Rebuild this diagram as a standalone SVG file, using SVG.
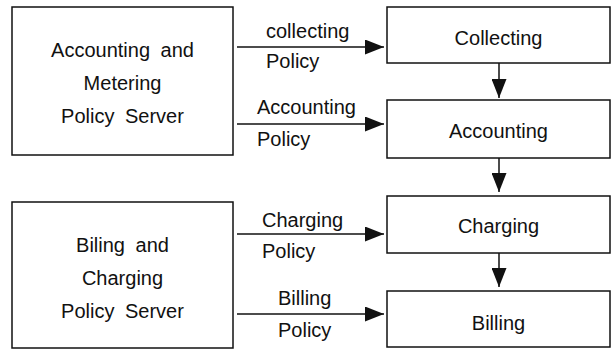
<svg xmlns="http://www.w3.org/2000/svg" width="614" height="350" viewBox="0 0 614 350">
<defs>
<style>
.box{fill:#fff;stroke:#111;stroke-width:1.5}
.t{font-family:"Liberation Sans",Arial,Helvetica,sans-serif;font-size:20px;fill:#111}
.c{text-anchor:middle;word-spacing:5px}
.ln{stroke:#111;stroke-width:1.5;fill:none}
</style>
<marker id="ah" markerUnits="userSpaceOnUse" markerWidth="19" markerHeight="15" refX="19" refY="7.5" orient="auto">
<path d="M0,0 L19,7.5 L0,15 Z" fill="#111"/>
</marker>
</defs>
<rect width="614" height="350" fill="#fff"/>
<g id="am-server">
<rect class="box" x="12" y="7" width="221" height="148"/>
<text class="t c" x="122.5" y="57">Accounting and</text>
<text class="t c" x="122.5" y="90">Metering</text>
<text class="t c" x="122.5" y="123">Policy Server</text>
</g>
<g id="bc-server">
<rect class="box" x="12" y="202" width="221" height="146"/>
<text class="t c" x="122.5" y="252">Biling and</text>
<text class="t c" x="122.5" y="285">Charging</text>
<text class="t c" x="122.5" y="318">Policy Server</text>
</g>
<g id="collecting">
<rect class="box" x="387" y="7" width="223" height="56"/>
<text class="t c" x="498.5" y="45">Collecting</text>
</g>
<g id="accounting">
<rect class="box" x="387" y="100" width="223" height="58"/>
<text class="t c" x="498.5" y="138">Accounting</text>
</g>
<g id="charging">
<rect class="box" x="387" y="196" width="223" height="57"/>
<text class="t c" x="498.5" y="233">Charging</text>
</g>
<g id="billing">
<rect class="box" x="387" y="291" width="223" height="56"/>
<text class="t c" x="498.5" y="330">Billing</text>
</g>
<g id="connectors">
<line class="ln" x1="237" y1="47" x2="384" y2="47" marker-end="url(#ah)"/>
<line class="ln" x1="237" y1="124" x2="384" y2="124" marker-end="url(#ah)"/>
<line class="ln" x1="237" y1="234" x2="384" y2="234" marker-end="url(#ah)"/>
<line class="ln" x1="237" y1="314" x2="384" y2="314" marker-end="url(#ah)"/>
<line class="ln" x1="499" y1="63" x2="499" y2="98" marker-end="url(#ah)"/>
<line class="ln" x1="499" y1="158" x2="499" y2="192" marker-end="url(#ah)"/>
<line class="ln" x1="499" y1="253" x2="499" y2="287" marker-end="url(#ah)"/>
<text class="t" x="266" y="38">collecting</text>
<text class="t" x="266" y="68">Policy</text>
<text class="t" x="257" y="114">Accounting</text>
<text class="t" x="257" y="146">Policy</text>
<text class="t" x="262" y="227">Charging</text>
<text class="t" x="262" y="258">Policy</text>
<text class="t" x="278" y="305">Billing</text>
<text class="t" x="278" y="337">Policy</text>
</g>
</svg>
